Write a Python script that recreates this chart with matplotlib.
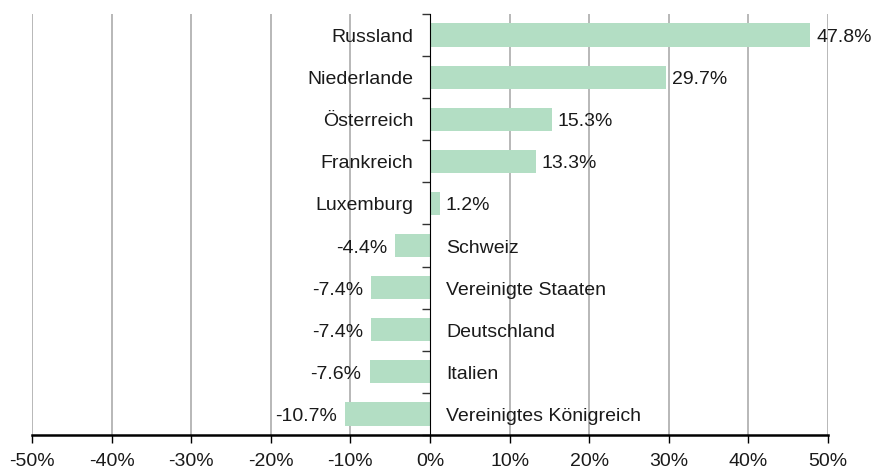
import numpy as np
import matplotlib.pyplot as plt

plt.rcParams['font.family'] = ['Liberation Sans', 'DejaVu Sans']

countries = ["Russland", "Niederlande", "Österreich", "Frankreich", "Luxemburg",
             "Schweiz", "Vereinigte Staaten", "Deutschland", "Italien",
             "Vereinigtes Königreich"]
changes = [47.8, 29.7, 15.3, 13.3, 1.2, -4.4, -7.4, -7.4, -7.6, -10.7]
xticks = [-50, -40, -30, -20, -10, 0, 10, 20, 30, 40, 50]

fig = plt.figure(figsize=(8.81, 4.71), dpi=100)
ax = fig.add_axes([32 / 881, 36 / 471, 796 / 881, 421 / 471])

n = len(countries)
ypos = np.arange(n)[::-1]
ax.barh(ypos, changes, height=0.55, color='#b3dec4', zorder=2)

ax.set_xlim(-50, 50)
ax.set_ylim(-0.5, n - 0.5)

# vertical grid, zero line is the axis itself
for x in xticks:
    if x != 0:
        ax.axvline(x, color='#ababab', lw=1.2, zorder=0)

fs = 14
tc = '#1a1a1a'
for y, name, v in zip(ypos, countries, changes):
    yt = y - 0.06
    if v >= 0:
        ax.text(-2.1, yt, name, ha='right', va='center', fontsize=fs, color=tc, zorder=3)
        ax.text(v + 0.7, yt, f"{v:.1f}%", ha='left', va='center', fontsize=fs, color=tc, zorder=3)
    else:
        ax.text(2.0, yt, name, ha='left', va='center', fontsize=fs, color=tc, zorder=3)
        ax.text(v - 1.0, yt, f"{v:.1f}%", ha='right', va='center', fontsize=fs, color=tc, zorder=3)

ax.spines['top'].set_visible(False)
ax.spines['right'].set_visible(False)
ax.spines['left'].set_position(('data', 0))
ax.spines['left'].set_zorder(4)
ax.spines['bottom'].set_linewidth(1.8)

ax.set_yticks(np.arange(-0.5, n, 1.0))
ax.set_yticklabels([])
ax.tick_params(axis='y', direction='out', length=6, width=1, color='#333333')

ax.set_xticks(xticks)
ax.set_xticklabels([f"{x}%" for x in xticks], fontsize=fs, color=tc)
ax.tick_params(axis='x', direction='out', length=6, width=1, pad=7)

fig.savefig('out.png', dpi=100)
